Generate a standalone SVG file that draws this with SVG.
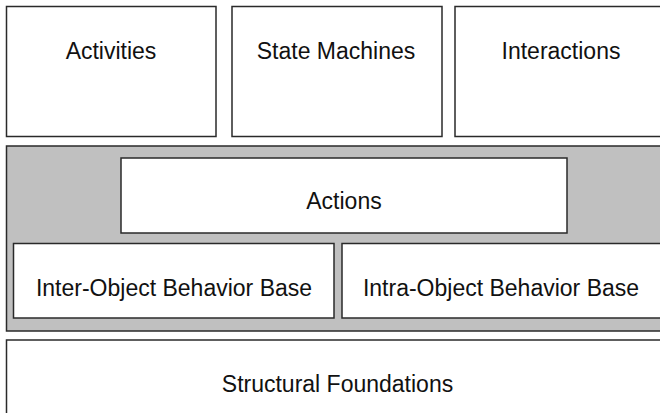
<svg xmlns="http://www.w3.org/2000/svg" width="660" height="413" viewBox="0 0 660 413">
<style>
.box{fill:#ffffff;stroke:#2a2a2a;stroke-width:1.5}
.band{fill:#c0c0c0;stroke:#2a2a2a;stroke-width:1.5}
.lbl{font-family:"Liberation Sans",Arial,sans-serif;font-size:23px;fill:#111111;text-anchor:middle}
</style>
<rect width="660" height="413" fill="#ffffff"/>
<g id="activities"><rect class="box" x="6.5" y="6.5" width="209.5" height="130"/><text class="lbl" x="111" y="59">Activities</text></g>
<g id="state-machines"><rect class="box" x="232" y="6.5" width="210" height="130"/><text class="lbl" x="336" y="59">State Machines</text></g>
<g id="interactions"><rect class="box" x="455" y="6.5" width="212" height="130"/><text class="lbl" x="561" y="59">Interactions</text></g>
<g id="behavior-band"><rect class="band" x="6.5" y="146" width="670" height="185"/></g>
<g id="actions"><rect class="box" x="121" y="158" width="446" height="75"/><text class="lbl" x="344" y="209">Actions</text></g>
<g id="inter-object"><rect class="box" x="13.5" y="243.5" width="320.5" height="74.5"/><text class="lbl" x="174" y="296">Inter-Object Behavior Base</text></g>
<g id="intra-object"><rect class="box" x="342" y="243.5" width="330" height="74.5"/><text class="lbl" x="501" y="296">Intra-Object Behavior Base</text></g>
<g id="structural-foundations"><rect class="box" x="6.5" y="340" width="670" height="100"/><text class="lbl" x="337.5" y="392">Structural Foundations</text></g>
<g id="connectors"></g>
</svg>
